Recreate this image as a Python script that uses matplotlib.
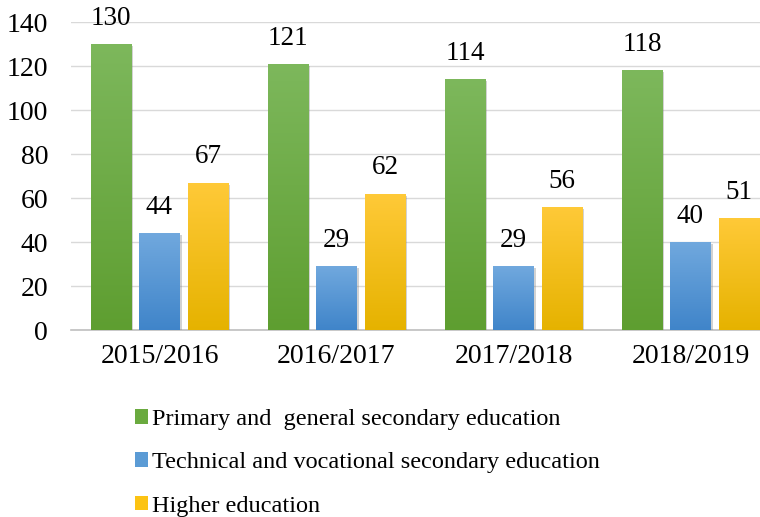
import matplotlib.pyplot as plt
import matplotlib.patheffects as pe
from matplotlib.patches import Patch
import numpy as np

plt.rcParams['font.family'] = ['Liberation Serif', 'DejaVu Serif']

years = ['2015/2016', '2016/2017', '2017/2018', '2018/2019']
primary = [130, 121, 114, 118]
technical = [44, 29, 29, 40]
higher = [67, 62, 56, 51]
series_names = ['Primary and  general secondary education',
                'Technical and vocational secondary education',
                'Higher education']
series = [primary, technical, higher]
# (top colour, bottom colour) for the gradient fill
grad_colors = [((0.49, 0.72, 0.36), (0.37, 0.62, 0.19)),
               ((0.44, 0.66, 0.87), (0.25, 0.52, 0.79)),
               ((1.00, 0.79, 0.22), (0.90, 0.70, 0.00))]
legend_colors = ['#6aaa3f', '#5b9bd5', '#fcc313']

fig = plt.figure(figsize=(7.6, 5.17), dpi=100)
ax = fig.add_axes([71 / 760, 1 - 330 / 517, 708 / 760, 308 / 517])

x = np.arange(len(years))
width = 0.226
step = 0.274

for i, (vals, (ctop, cbot)) in enumerate(zip(series, grad_colors)):
    pos = x + (i - 1) * step
    bars = ax.bar(pos, vals, width, color=cbot, zorder=3,
                  path_effects=[pe.SimplePatchShadow(offset=(1.5, -1.5), shadow_rgbFace='gray', alpha=0.35), pe.Normal()])
    grad = np.linspace(0, 1, 100)[:, None, None]
    img = np.array(ctop)[None, None, :] * (1 - grad) + np.array(cbot)[None, None, :] * grad
    for b, v in zip(bars, vals):
        im = ax.imshow(img, extent=[b.get_x(), b.get_x() + width, 0, v], aspect='auto', zorder=4)
        im.set_clip_path(b)
        ax.text(b.get_x() + width / 2, v + 6, str(v), ha='center', va='bottom', fontsize=19.5, zorder=5)

ax.set_xlim(-0.5, 3.5)
ax.set_ylim(0, 140)
ax.set_yticks(range(0, 141, 20))
ax.set_xticks(x)
ax.set_xticklabels(years)
ax.grid(axis='y', color='#d9d9d9', linewidth=1, zorder=0)
for s in ['top', 'right', 'left']:
    ax.spines[s].set_visible(False)
ax.spines['bottom'].set_color('#bfbfbf')
ax.spines['bottom'].set_linewidth(1.2)
ax.tick_params(axis='both', length=0, labelsize=20)
ax.tick_params(axis='y', pad=16.5)
ax.tick_params(axis='x', pad=10)

handles = [Patch(facecolor=c, edgecolor='none') for c in legend_colors]
fig.legend(handles, series_names, loc='upper left', bbox_to_anchor=(113 / 760, 1 - 387 / 517),
           frameon=False, fontsize=17.5, handlelength=0.55, handleheight=0.55,
           handletextpad=0.15, labelspacing=0.92)

fig.savefig('out.png', dpi=100)
